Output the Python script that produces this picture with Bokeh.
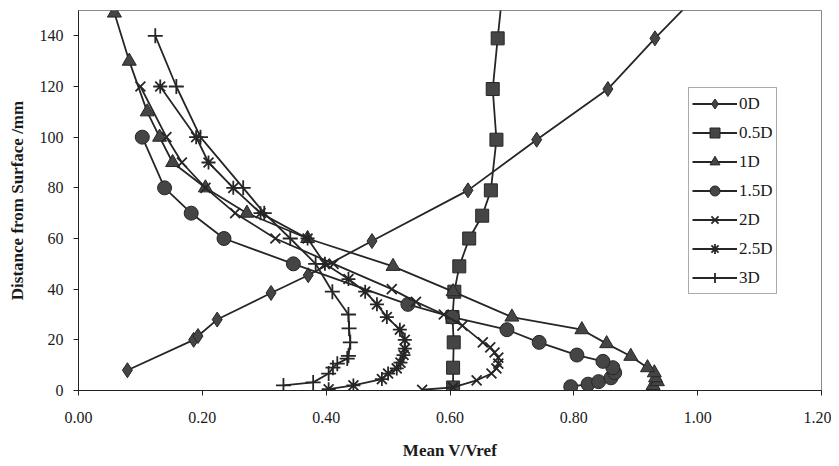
from bokeh.plotting import figure
from bokeh.models import Range1d, FixedTicker, NumeralTickFormatter, Legend, LegendItem
from bokeh.embed import file_html
from bokeh.resources import INLINE

# ---- data ----
y_0D = [8, 20, 21.5, 28, 38.5, 45.5, 59, 79, 99, 119, 139, 160]
x_0D = [0.079, 0.186, 0.193, 0.224, 0.311, 0.371, 0.474, 0.629, 0.740, 0.855, 0.931, 1.015]

y_05D = [1.2, 9, 19, 29, 39, 49, 60, 69, 79, 99, 119, 139, 160]
x_05D = [0.605, 0.605, 0.606, 0.604, 0.607, 0.615, 0.631, 0.652, 0.666, 0.675, 0.669, 0.677, 0.686]

y_1D = [2, 3.5, 5, 7, 9, 13.5, 18.5, 24, 29, 39, 49, 60, 70, 80, 90, 100, 110, 130, 149]
x_1D = [0.928, 0.935, 0.932, 0.930, 0.919, 0.892, 0.853, 0.813, 0.700, 0.605, 0.508, 0.370, 0.272,
        0.205, 0.152, 0.131, 0.111, 0.082, 0.058]

y_15D = [1.5, 2.5, 3.5, 5, 7, 9, 11.5, 14, 19, 24, 29, 34, 50, 60, 70, 80, 100]
x_15D = [0.795, 0.823, 0.840, 0.860, 0.866, 0.863, 0.847, 0.805, 0.744, 0.692, 0.604, 0.532,
         0.347, 0.235, 0.182, 0.139, 0.103]

y_2D = [0.3, 1.2, 4, 6.7, 8.7, 10.6, 13, 15, 17, 19, 25.6, 30, 35, 40, 50, 60, 70, 80, 90, 100, 120]
x_2D = [0.555, 0.605, 0.643, 0.667, 0.675, 0.678, 0.678, 0.672, 0.665, 0.653, 0.620, 0.590, 0.545,
        0.506, 0.412, 0.318, 0.253, 0.205, 0.167, 0.142, 0.100]

y_25D = [0.5, 2, 4.5, 6.7, 8.7, 11, 14, 16.5, 20, 24, 29, 34, 39, 44, 50, 60, 70, 80, 90, 100, 120]
x_25D = [0.404, 0.444, 0.490, 0.500, 0.514, 0.520, 0.525, 0.527, 0.527, 0.519, 0.498, 0.482, 0.463,
         0.436, 0.398, 0.370, 0.294, 0.250, 0.210, 0.190, 0.132]

y_3D = [2, 3.2, 6.7, 9, 10.6, 12.6, 13.7, 19, 24.5, 30, 39, 50, 60, 70, 80, 100, 120, 140]
x_3D = [0.331, 0.379, 0.404, 0.411, 0.418, 0.434, 0.436, 0.439, 0.437, 0.436, 0.410, 0.383,
        0.342, 0.300, 0.266, 0.197, 0.158, 0.124]

series_labels = ["0D", "0.5D", "1D", "1.5D", "2D", "2.5D", "3D"]
series_x = [x_0D, x_05D, x_1D, x_15D, x_2D, x_25D, x_3D]
series_y = [y_0D, y_05D, y_1D, y_15D, y_2D, y_25D, y_3D]
markers = ["diamond", "square", "triangle", "circle", "x", "asterisk", "cross"]
msizes = [15, 13, 14, 14, 14, 14, 15]

x_ticks = [0.0, 0.2, 0.4, 0.6, 0.8, 1.0, 1.2]
y_ticks = [0, 20, 40, 60, 80, 100, 120, 140]

SERIF = "Liberation Serif"
LINE_C = "#262626"
FILL_C = "#454545"

p = figure(width=831, height=466, output_backend="svg", toolbar_location=None,
           x_range=Range1d(0, 1.2), y_range=Range1d(0, 150),
           min_border_left=78, min_border_right=10, min_border_top=10, min_border_bottom=76)

p.background_fill_color = "white"
p.border_fill_color = "white"
p.outline_line_color = "#8a8a8a"
p.outline_line_width = 1
p.xgrid.visible = False
p.ygrid.visible = False

items = []
for lab, xs, ys, mk, ms in zip(series_labels, series_x, series_y, markers, msizes):
    lr = p.line(xs, ys, line_color=LINE_C, line_width=1.8)
    sr = p.scatter(xs, ys, marker=mk, size=ms, fill_color=FILL_C, line_color=LINE_C,
                   line_width=1.8 if mk in ("x", "asterisk", "cross") else 1)
    items.append(LegendItem(label=lab, renderers=[lr, sr]))

legend = Legend(items=items, location=(610, 96))
legend.label_text_font = SERIF
legend.label_text_font_size = "17px"
legend.label_text_color = "#1a1a1a"
legend.glyph_width = 45
legend.glyph_height = 25
legend.label_height = 25
legend.spacing = 4
legend.padding = 3
legend.margin = 0
legend.label_standoff = 2
legend.border_line_color = "#555555"
legend.border_line_width = 1
legend.background_fill_alpha = 1
p.add_layout(legend, "center")

for ax in (p.xaxis[0], p.yaxis[0]):
    ax.axis_line_color = "#222222"
    ax.major_tick_line_color = "#222222"
    ax.major_tick_out = 5
    ax.major_tick_in = 0
    ax.minor_tick_out = 0
    ax.minor_tick_in = 0
    ax.major_label_text_font = SERIF
    ax.major_label_text_font_size = "16px"
    ax.major_label_text_color = "#1a1a1a"
    ax.axis_label_text_font = SERIF
    ax.axis_label_text_font_style = "bold"
    ax.axis_label_text_font_size = "17px"
    ax.axis_label_text_color = "#1a1a1a"

p.xaxis.ticker = FixedTicker(ticks=x_ticks)
p.yaxis.ticker = FixedTicker(ticks=y_ticks)
p.xaxis.formatter = NumeralTickFormatter(format="0.00")
p.xaxis.axis_label = "Mean V/Vref"
p.yaxis.axis_label = "Distance from Surface /mm"
p.xaxis.major_label_standoff = 16
p.xaxis.axis_label_standoff = 15
p.yaxis.major_label_standoff = 10
p.yaxis.axis_label_standoff = 10

open("out.html", "w").write(file_html(p, INLINE))
